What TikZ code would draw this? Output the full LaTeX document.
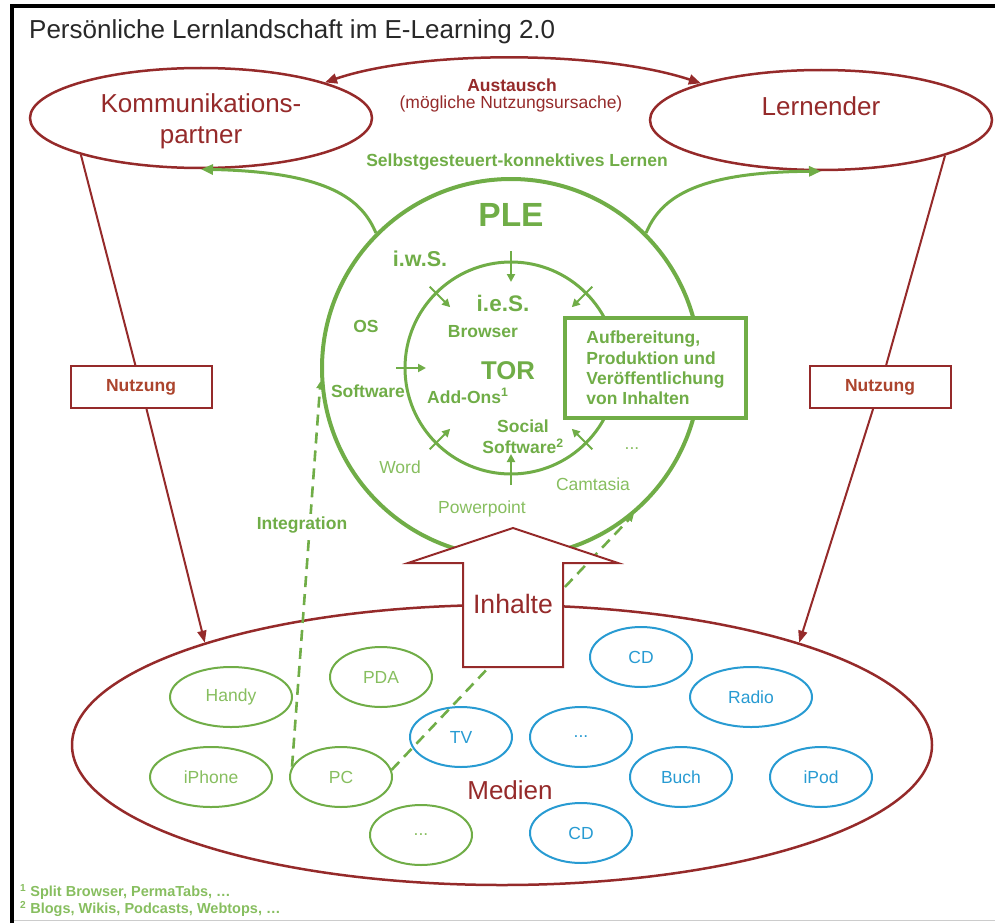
\documentclass[tikz,border=0pt]{standalone}
\usepackage{fontspec}
\setmainfont{Liberation Sans}
\usetikzlibrary{shapes.geometric,arrows.meta}
\definecolor{grn}{RGB}{112,173,71}
\definecolor{lgrn}{RGB}{135,190,95}
\definecolor{dred}{RGB}{149,42,42}
\definecolor{nred}{RGB}{172,68,45}
\definecolor{blu}{RGB}{40,155,210}
\definecolor{ttl}{RGB}{40,40,40}
\newcommand{\fsz}[2]{\fontsize{#1}{#2}\selectfont}
\begin{document}
\begin{tikzpicture}[x=1pt,y=-1pt,
  ell/.style={ellipse, draw, inner sep=0pt},
  bigell/.style={ell, draw=dred, line width=2.5pt, minimum width=342pt, minimum height=100pt},
  medg/.style={ell, draw=grn, line width=2pt, text=lgrn, font=\fsz{17.5}{21}, minimum height=60pt},
  medb/.style={ell, draw=blu, line width=2pt, text=blu, font=\fsz{17.5}{21}, minimum height=60pt},
  lbl/.style={text=grn, font=\bfseries\fsz{17.5}{21}, inner sep=0pt},
  lbll/.style={text=lgrn, font=\fsz{17.5}{21}, inner sep=0pt},
  redlbl/.style={text=dred, inner sep=0pt},
  ringarr/.style={grn, line width=2pt, -{Triangle[length=8pt,width=8pt]}},
  greenarr/.style={grn, line width=3pt, -{Triangle[length=12pt,width=10pt]}},
  redarr/.style={dred, line width=2pt, -{Triangle[length=12pt,width=9pt]}},
  nutzbox/.style={draw=dred, line width=2pt, fill=white, text=nred, font=\bfseries\fsz{17.5}{21}, minimum width=141pt, minimum height=42pt, inner sep=0pt},
  integ/.style={grn, line width=2.6pt, dash pattern=on 11pt off 7pt, -{Triangle[length=7pt,width=7pt]}}
]
\useasboundingbox (0,0) rectangle (995,923);
% frame
\draw[black, line width=4pt] (12,923) -- (12,6) -- (995,6);
\draw[black!20, line width=1pt] (14,920.5) -- (995,920.5);
% title
\node[anchor=base west, inner sep=0pt, text=ttl, font=\fsz{26}{30}] (title) at (29,39) {Persönliche Lernlandschaft im E-Learning 2.0};
% top ellipses
\node[bigell] (kp) at (201,118) {};
\node[redlbl, font=\fsz{26}{31}, align=center] (kptext) at (201,121) {Kommunikations-\\partner};
\node[bigell] (ler) at (821,120) {};
\node[redlbl, font=\fsz{26}{31}] (lertext) at (821,106) {Lernender};
% Austausch
\draw[dred, line width=2.5pt, {Triangle[length=12pt,width=10pt]}-{Triangle[length=12pt,width=10pt]}] (kp.16) .. controls (420,50) and (600,50) .. (ler.163);
\node[redlbl, font=\bfseries\fsz{17.5}{21}] (aus) at (512,85) {Austausch};
\node[redlbl, font=\fsz{17.5}{21}] (aus2) at (511,104) {(mögliche Nutzungsursache)};
\node[lbl] (selbst) at (517,162) {Selbstgesteuert-konnektives Lernen};
% PLE circles
\node[circle, draw=grn, line width=4pt, minimum size=378pt, inner sep=0pt] (ple) at (511,368) {};
\node[circle, draw=grn, line width=3pt, minimum size=212pt, inner sep=0pt] (tor) at (511,368) {};
% curved arrows to top ellipses
\draw[greenarr] (ple.135) .. controls (362,200) and (330,172) .. (kp.south);
\draw[greenarr] (ple.45) .. controls (660,200) and (692,172) .. (ler.south);
% ring arrows
\draw[ringarr] (511,251) -- (511,282);
\draw[ringarr] (511,485) -- (511,454);
\draw[ringarr] (396,368) -- (426,368);
\draw[ringarr] (429.7,286.7) -- (450.2,307.2);
\draw[ringarr] (592.3,286.7) -- (571.8,307.2);
\draw[ringarr] (429.7,449.3) -- (450.2,428.8);
\draw[ringarr] (592.3,449.3) -- (571.8,428.8);
% box
\node[draw=grn, line width=4pt, fill=white, minimum width=181pt, minimum height=100pt, text=grn, font=\bfseries\fsz{17.5}{20.2}, align=left, inner sep=0pt] (aufb) at (655.5,368) {Aufbereitung,\\Produktion und\\Veröffentlichung\\von Inhalten};
% circle texts
\node[text=grn, font=\bfseries\fsz{33.5}{36}, inner sep=0pt] (pletext) at (511,215) {PLE};
\node[text=grn, font=\bfseries\fsz{21.5}{24}, inner sep=0pt] (iws) at (420,259) {i.w.S.};
\node[text=grn, font=\bfseries\fsz{22.5}{24}, inner sep=0pt] (ies) at (503,303) {i.e.S.};
\node[lbl] (os) at (366,326) {OS};
\node[lbl] (browser) at (483,332) {Browser};
\node[text=grn, font=\bfseries\fsz{25.7}{28}, inner sep=0pt] (tortext) at (508,371) {TOR};
\node[lbl] (software) at (368,391) {Software};
\node[lbl, anchor=west] (addons) at (427,396) {Add-Ons\textsuperscript{1}};
\node[lbl, align=center] (social) at (523,437) {Social\\Software\textsuperscript{2}};
\node[lbll] (word) at (400,467) {Word};
\node[lbll] (ppt) at (482,509) {Powerpoint};
\node[lbll] (camt) at (593,484) {Camtasia};
\node[lbll] (rdots) at (632,449) {...};
% Medien
\node[ell, draw=dred, line width=2.5pt, minimum width=860pt, minimum height=280pt] (medien) at (502,745) {};
\node[medg, minimum width=122pt] (handy) at (231,697) {Handy};
\node[medg, minimum width=122pt] (iphone) at (211,777) {iPhone};
\node[medg, minimum width=102pt] (pda) at (381,677) {PDA};
\node[medg, minimum width=102pt] (pc) at (341,777) {PC};
\node[medg, minimum width=102pt] (gdots) at (421,835) {...};
\node[medb, minimum width=102pt] (tv) at (461,737) {TV};
\node[medb, minimum width=102pt] (bdots) at (581,737) {...};
\node[medb, minimum width=102pt] (cd1) at (641,657) {CD};
\node[medb, minimum width=122pt] (radio) at (751,697) {Radio};
\node[medb, minimum width=102pt] (buch) at (681,777) {Buch};
\node[medb, minimum width=102pt] (ipod) at (821,777) {iPod};
\node[medb, minimum width=102pt] (cd2) at (581,833) {CD};
\node[redlbl, font=\fsz{26}{30}] (medtext) at (510,790) {Medien};
% Nutzung
\node[nutzbox] (nutzL) at (141,387) {Nutzung};
\node[nutzbox] (nutzR) at (880,387) {Nutzung};
\draw[redarr] (kp.197) -- (nutzL) -- (medien.161);
\draw[redarr] (ler.-16) -- (nutzR) -- (medien.19);
% Integration dashed lines
\draw[integ] (pc.168) -- (ple.184);
\draw[integ] (pc.8) -- (ple.-50);
% Inhalte arrow
\draw[dred, line width=2pt, fill=white] (463,667) -- (463,563) -- (408,563) -- (513,528) -- (618,563) -- (563,563) -- (563,667) -- cycle;
\node[redlbl, font=\fsz{26.6}{30}] (inhalte) at (513,604) {Inhalte};
\node[lbl, fill=white, inner sep=3pt] (integtext) at (302,525) {Integration};
% footnotes
\node[anchor=west, inner sep=0pt, text=lgrn, font=\bfseries\fsz{14.5}{17}] (fn1) at (20,892) {\textsuperscript{1} Split Browser, PermaTabs, …};
\node[anchor=west, inner sep=0pt, text=lgrn, font=\bfseries\fsz{14.5}{17}] (fn2) at (20,909) {\textsuperscript{2} Blogs, Wikis, Podcasts, Webtops, …};
\end{tikzpicture}
\end{document}
